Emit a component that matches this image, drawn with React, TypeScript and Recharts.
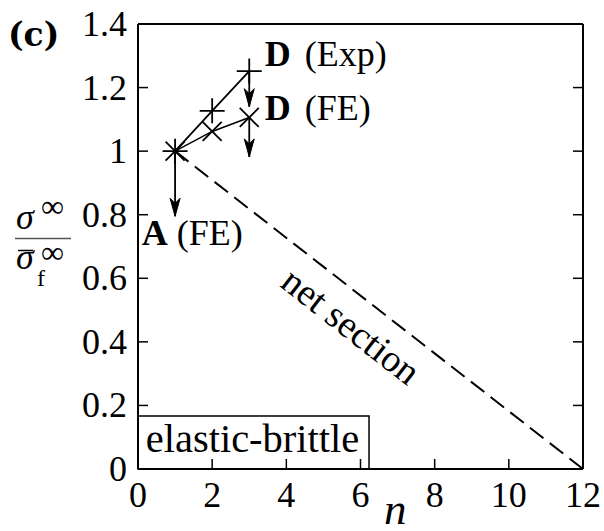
import React from 'react';
import { ComposedChart, Line, XAxis, YAxis, ReferenceDot, ReferenceArea } from 'recharts';

const W = 604;
const H = 531;
const SERIF = "'Liberation Serif', 'DejaVu Serif', serif";

// axis ticks
const xTicks = [0, 2, 4, 6, 8, 10, 12];
const yTicks = [0, 0.2, 0.4, 0.6, 0.8, 1, 1.2, 1.4];

// experimental results (plus markers)
const expN = [1, 2, 3];
const expRatio = [1.0, 1.127, 1.252];

// finite element results (cross markers)
const feN = [1, 2, 3];
const feRatio = [1.0, 1.062, 1.106];

// net section line
const netN = [1, 12];
const netRatio = [1.0, 0.0];

// downward arrows: position n, start and tip ratio
const arrowN = [1, 3, 3];
const arrowFrom = [1.0, 1.252, 1.106];
const arrowTo = [0.795, 1.14, 0.982];

// annotation positions (data coords)
const labelDExp = { n: 3.42, r: 1.268 };
const labelDFE = { n: 3.42, r: 1.098 };
const labelAFE = { n: 0.1, r: 0.705 };
const labelNet = { n: 5.75, r: 0.45 };
const boxN = [0, 6.23];
const boxR = [0, 0.167];

const expData = expN.map((n, i) => ({ n, r: expRatio[i] }));
const feData = feN.map((n, i) => ({ n, r: feRatio[i] }));
const netData = netN.map((n, i) => ({ n, r: netRatio[i] }));
const arrowData = arrowN.map((n, i) => [
  { n, r: arrowFrom[i] },
  { n, r: arrowTo[i] },
]);

const TICK_LEN = 10;
const txt = (size: number, extra: any = {}) => ({ fontFamily: SERIF, fontSize: size, ...extra });

const BottomTick = (p: any) => (
  <g>
    <line x1={p.x} y1={p.y} x2={p.x} y2={p.y - TICK_LEN} stroke="#000" strokeWidth={1.5} />
    <text x={p.x} y={p.y + 38} textAnchor="middle" style={txt(36)} fill="#000">
      {String(p.payload.value)}
    </text>
  </g>
);
const TopTick = (p: any) => (
  <line x1={p.x} y1={p.y} x2={p.x} y2={p.y + TICK_LEN} stroke="#000" strokeWidth={1.5} />
);
const LeftTick = (p: any) => (
  <g>
    <line x1={p.x} y1={p.y} x2={p.x + TICK_LEN} y2={p.y} stroke="#000" strokeWidth={1.5} />
    <text x={p.x - 11} y={p.y + 12} textAnchor="end" style={txt(36)} fill="#000">
      {String(p.payload.value)}
    </text>
  </g>
);
const RightTick = (p: any) => (
  <line x1={p.x} y1={p.y} x2={p.x - TICK_LEN} y2={p.y} stroke="#000" strokeWidth={1.5} />
);

const PlusDot = (p: any) => {
  const s = 12.5;
  return (
    <path
      key={`p${p.index}`}
      d={`M${p.cx - s},${p.cy}H${p.cx + s}M${p.cx},${p.cy - s}V${p.cy + s}`}
      stroke="#000"
      strokeWidth={1.8}
      fill="none"
    />
  );
};
const CrossDot = (p: any) => {
  const s = 9.5;
  const { cx, cy } = p;
  return (
    <path
      key={`c${p.index}`}
      d={`M${cx - s},${cy - s}L${cx + s},${cy + s}M${cx - s},${cy + s}L${cx + s},${cy - s}`}
      stroke="#000"
      strokeWidth={1.8}
      fill="none"
    />
  );
};
const ArrowDot = (p: any) => {
  if (p.index !== 1) return <g key={`a${p.index}`} />;
  const { cx, cy } = p;
  return (
    <path
      key={`a${p.index}`}
      d={`M${cx},${cy}L${cx - 5},${cy - 18}L${cx},${cy - 13}L${cx + 5},${cy - 18}Z`}
      fill="#000"
      stroke="#000"
      strokeWidth={1}
    />
  );
};

const BoldLabel = (bold: string, rest: string, gap: number) => (props: any) => {
  const vb = props.viewBox || {};
  const x = (vb.x ?? 0) + (vb.width ?? 0) / 2;
  const y = (vb.y ?? 0) + (vb.height ?? 0) / 2;
  return (
    <text x={x} y={y} style={txt(36)} fill="#000">
      <tspan fontWeight="bold">{bold}</tspan>
      <tspan dx={gap}>{rest}</tspan>
    </text>
  );
};

const NetLabel = (props: any) => {
  const vb = props.viewBox || {};
  const x = (vb.x ?? 0) + (vb.width ?? 0) / 2;
  const y = (vb.y ?? 0) + (vb.height ?? 0) / 2;
  return (
    <text
      x={x}
      y={y}
      textAnchor="middle"
      dominantBaseline="central"
      transform={`rotate(38 ${x} ${y})`}
      style={txt(38)}
      fill="#000"
    >
      net section
    </text>
  );
};

const BoxLabel = (props: any) => {
  const vb = props.viewBox || {};
  return (
    <text x={vb.x + vb.width / 2 - 1} y={vb.y + 36} textAnchor="middle" style={txt(40.5)} fill="#000">
      elastic-brittle
    </text>
  );
};

const YLabel = (props: any) => {
  const vb = props.viewBox || {};
  const x0 = vb.x ?? 0;
  const cy = (vb.y ?? 0) + (vb.height ?? 0) / 2;
  const ly = cy - 8;
  return (
    <g fill="#000">
      <text x={x0 + 8} y={46} style={{ fontFamily: "'DejaVu Serif', serif", fontWeight: 'bold', fontSize: 33 }}>
        (c)
      </text>
      <text x={x0 + 16} y={ly - 10} style={txt(36, { fontStyle: 'italic' })}>σ</text>
      <text x={x0 + 41} y={ly - 22} style={txt(32)}>∞</text>
      <line x1={x0 + 15} y1={ly} x2={x0 + 71} y2={ly} stroke="#555" strokeWidth={1.5} />
      <line x1={x0 + 18} y1={ly + 12} x2={x0 + 33} y2={ly + 12} stroke="#000" strokeWidth={1.5} />
      <text x={x0 + 16} y={ly + 30} style={txt(36, { fontStyle: 'italic' })}>σ</text>
      <text x={x0 + 41} y={ly + 24} style={txt(32)}>∞</text>
      <text x={x0 + 37} y={ly + 47} style={txt(24)}>f</text>
    </g>
  );
};

const XLabel = (props: any) => {
  const vb = props.viewBox || {};
  return (
    <text
      x={(vb.x ?? 0) + 246}
      y={(vb.y ?? 0) + 55}
      style={txt(45, { fontStyle: 'italic' })}
      fill="#000"
    >
      n
    </text>
  );
};

export default function App() {
  return (
    <div style={{ position: 'absolute', left: 0, top: 0, width: W, height: H, background: '#fff' }}>
      <ComposedChart width={W} height={H} margin={{ top: 0, right: 0, bottom: 0, left: 0 }}>
        <XAxis
          dataKey="n"
          type="number"
          domain={[0, 12]}
          ticks={xTicks}
          allowDataOverflow
          height={62}
          tickSize={0}
          tickMargin={0}
          tickLine={false}
          tick={BottomTick}
          axisLine={{ stroke: '#000', strokeWidth: 2 }}
          interval={0}
          label={{ content: XLabel }}
        />
        <XAxis
          xAxisId="top"
          orientation="top"
          type="number"
          domain={[0, 12]}
          ticks={xTicks}
          allowDataOverflow
          height={24}
          tickSize={0}
          tickMargin={0}
          tickLine={false}
          tick={TopTick}
          axisLine={{ stroke: '#000', strokeWidth: 2 }}
          interval={0}
        />
        <YAxis
          dataKey="r"
          type="number"
          domain={[0, 1.4]}
          ticks={yTicks}
          allowDataOverflow
          width={138}
          tickSize={0}
          tickMargin={0}
          tickLine={false}
          tick={LeftTick}
          axisLine={{ stroke: '#000', strokeWidth: 2 }}
          interval={0}
          label={{ content: YLabel }}
        />
        <YAxis
          yAxisId="right"
          orientation="right"
          type="number"
          domain={[0, 1.4]}
          ticks={yTicks}
          allowDataOverflow
          width={21}
          tickSize={0}
          tickMargin={0}
          tickLine={false}
          tick={RightTick}
          axisLine={{ stroke: '#000', strokeWidth: 2 }}
          interval={0}
        />
        <ReferenceArea
          x1={boxN[0]}
          x2={boxN[1]}
          y1={boxR[0]}
          y2={boxR[1]}
          fill="none"
          fillOpacity={0}
          stroke="#000"
          strokeWidth={1.5}
          ifOverflow="visible"
          label={{ content: BoxLabel }}
        />
        <Line
          data={netData}
          dataKey="r"
          stroke="#000"
          strokeWidth={2}
          strokeDasharray="17 8"
          dot={false}
          activeDot={false}
          isAnimationActive={false}
        />
        <Line
          data={expData}
          dataKey="r"
          stroke="#000"
          strokeWidth={1.8}
          dot={PlusDot}
          activeDot={false}
          isAnimationActive={false}
        />
        <Line
          data={feData}
          dataKey="r"
          stroke="#000"
          strokeWidth={1.5}
          dot={CrossDot}
          activeDot={false}
          isAnimationActive={false}
        />
        {arrowData.map((d, i) => (
          <Line
            key={`arrow${i}`}
            data={d}
            dataKey="r"
            stroke="#000"
            strokeWidth={1.8}
            dot={ArrowDot}
            activeDot={false}
            isAnimationActive={false}
          />
        ))}
        <ReferenceDot x={labelDExp.n} y={labelDExp.r} r={0} fill="none" stroke="none" ifOverflow="visible" label={{ content: BoldLabel('D', ' (Exp)', 5) }} />
        <ReferenceDot x={labelDFE.n} y={labelDFE.r} r={0} fill="none" stroke="none" ifOverflow="visible" label={{ content: BoldLabel('D', ' (FE)', 5) }} />
        <ReferenceDot x={labelAFE.n} y={labelAFE.r} r={0} fill="none" stroke="none" ifOverflow="visible" label={{ content: BoldLabel('A', ' (FE)', 0) }} />
        <ReferenceDot x={labelNet.n} y={labelNet.r} r={0} fill="none" stroke="none" ifOverflow="visible" label={{ content: NetLabel }} />
      </ComposedChart>
    </div>
  );
}
